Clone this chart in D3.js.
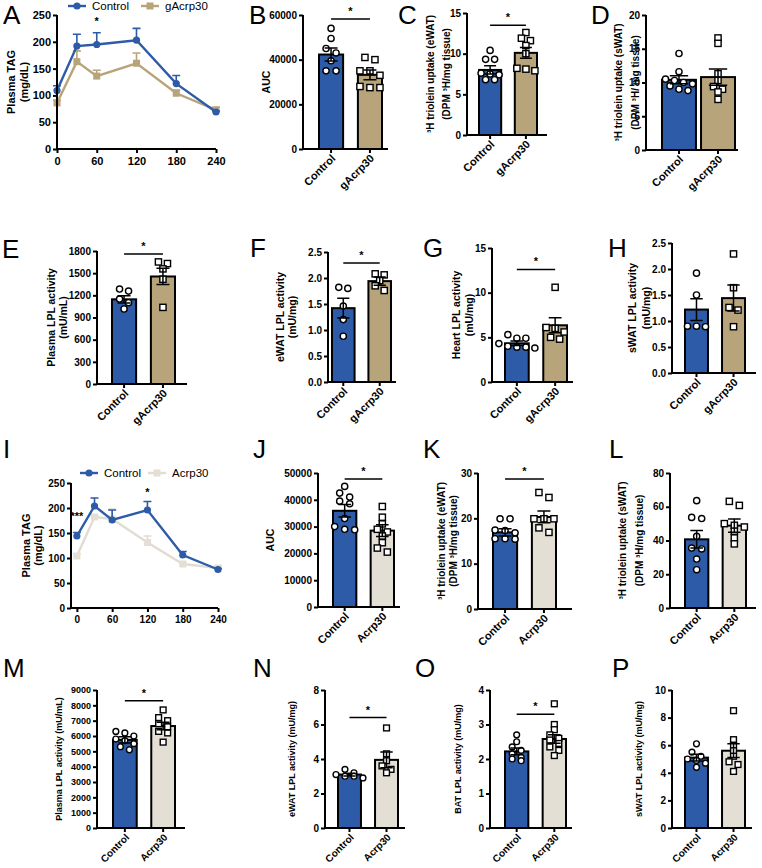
<!DOCTYPE html>
<html><head><meta charset="utf-8">
<script src="https://cdn.jsdelivr.net/npm/d3@7"></script>
<style>body{margin:0;background:#fff} svg{display:block}</style>
</head><body><svg id="c" width="762" height="868"></svg>
<script>
// ---------------- DATA ----------------
const groupsTop = ["Control", "gAcrp30"];
const groupsBot = ["Control", "Acrp30"];
const timePoints = [0, 30, 60, 120, 180, 240];
const timeTicks = [0, 60, 120, 180, 240];

// A: plasma TAG time course (gAcrp30)
const aCtrlMean = [109, 192, 195, 203, 122, 69];
const aCtrlSem  = [9, 22, 22, 22, 15, 2];
const aTrtMean  = [86, 163, 136, 160, 104, 73];
const aTrtSem   = [5, 20, 11, 19, 6, 5];
const aStars = [{t: 60, v: 232, s: "*"}];

// B: AUC
const bCtrl = [54000, 49500, 45000, 43000, 39500, 35000, 35000];
const bTrt  = [41000, 40000, 35000, 35000, 33000, 28000, 27500, 27500];
const bMean = [42300, 33200], bSem = [2900, 2200], bSig = 58200;
// C: eWAT uptake
const cCtrl = [10.4, 9.3, 9.3, 7.6, 7.4, 7.5, 6.8, 6.8];
const cTrt  = [12.6, 11.9, 11.6, 11.0, 10.0, 8.2, 8.1, 7.9];
const cMean = [8.0, 10.1], cSem = [0.5, 0.65], cSig = 13.5;
// D: sWAT uptake
const dCtrl = [14.3, 11.6, 10.5, 10.3, 10.0, 9.8, 9.5, 9.0, 8.8];
const dTrt  = [16.6, 15.8, 11.3, 10.3, 9.4, 9.0, 8.6, 7.5];
const dMean = [10.4, 10.8], dSem = [0.6, 1.2];
// E: plasma LPL
const eCtrl = [1285, 1257, 1150, 1100, 1015];
const eTrt  = [1652, 1630, 1558, 1418, 1037];
const eMean = [1146, 1455], eSem = [50, 110], eSig = 1760;
// F: eWAT LPL
const fCtrl = [1.82, 1.80, 1.46, 1.20, 0.88];
const fTrt  = [2.08, 2.06, 1.95, 1.85, 1.76];
const fMean = [1.42, 1.94], fSem = [0.19, 0.08], fSig = 2.29;
// G: heart LPL
const gCtrl = [5.3, 4.9, 4.9, 4.3, 4.0, 3.9, 3.9, 3.8];
const gTrt  = [10.6, 6.1, 6.0, 5.6, 5.0, 4.8];
const gMean = [4.33, 6.35], gSem = [0.25, 0.85], gSig = 12.6;
// H: sWAT LPL
const hCtrl = [1.92, 1.50, 0.90, 0.90, 0.89];
const hTrt  = [2.29, 1.64, 1.26, 1.21, 0.89];
const hMean = [1.22, 1.44], hSem = [0.21, 0.25];

// I: plasma TAG time course (Acrp30)
const iCtrlMean = [144, 204, 176, 196, 106, 77];
const iCtrlSem  = [7, 16, 20, 17, 7, 2];
const iTrtMean  = [104, 182, 178, 131, 88, 80];
const iTrtSem   = [4, 3, 20, 13, 4, 4];
const iStars = [{t: 0, v: 176, s: "***"}, {t: 120, v: 224, s: "*"}];

// J: AUC
const jCtrl = [45000, 42500, 41000, 39500, 38500, 33000, 30000, 29000, 28800];
const jTrt  = [37500, 33500, 31000, 29000, 28000, 26500, 24000, 22000, 20500];
const jMean = [35900, 28500], jSem = [2300, 2200], jSig = 47800;
// K: eWAT uptake
const kCtrl = [19.9, 19.9, 17.4, 17.3, 16.8, 15.5, 15.4, 15.5];
const kTrt  = [25.7, 24.6, 19.9, 19.9, 19.9, 17.9, 16.9];
const kMean = [16.9, 20.3], kSem = [0.8, 1.3], kSig = 28.7;
// L: sWAT uptake
const lCtrl = [63.6, 53.7, 53.0, 42.5, 35.5, 35.0, 29.0, 22.7];
const lTrt  = [63.2, 60.8, 50.0, 49.0, 48.0, 45.5, 41.5, 38.0];
const lMean = [40.7, 48.8], lSem = [5.2, 3.9];
// M: plasma LPL
const mCtrl = [6300, 6200, 6000, 5800, 5700, 5500, 5300, 5100];
const mTrt  = [7700, 7200, 7000, 6800, 6600, 6300, 6200, 5600];
const mMean = [5750, 6650], mSem = [200, 250], mSig = 8300;
// N: eWAT LPL
const nCtrl = [3.4, 3.2, 3.1, 3.0, 3.0, 2.9];
const nTrt  = [5.8, 4.3, 3.9, 3.6, 3.4, 3.2];
const nMean = [3.1, 3.95], nSem = [0.08, 0.45], nSig = 6.4;
// O: BAT LPL
const oCtrl = [2.7, 2.5, 2.35, 2.25, 2.15, 2.05, 2.0, 1.95];
const oTrt  = [3.6, 3.0, 2.85, 2.7, 2.6, 2.55, 2.45, 2.35, 2.25, 2.1];
const oMean = [2.22, 2.58], oSem = [0.1, 0.12], oSig = 3.3;
// P: sWAT LPL
const pCtrl = [6.1, 5.5, 5.2, 5.0, 4.9, 4.7, 4.4];
const pTrt  = [8.5, 6.4, 6.0, 5.6, 5.2, 4.8, 4.6, 4.1];
const pMean = [5.1, 5.6], pSem = [0.25, 0.5];

// ---------------- STYLE ----------------
const FONT = '"Liberation Sans", Arial, Helvetica, sans-serif';
const BLUE = "#2d5ba7", TAN = "#b8a47a", LIGHT = "#e4dfd4", LIGHTLINE = "#e2ddd2";
const svg = d3.select("#c");

function styleAxis(sel, fs) {
  sel.attr("font-family", FONT).attr("font-size", fs);
  sel.select(".domain").attr("stroke", "#000").attr("stroke-width", 2);
  sel.selectAll(".tick line").attr("stroke", "#000").attr("stroke-width", 2);
  sel.selectAll(".tick text").attr("fill", "#000").attr("font-weight", "bold");
}
function letter(L) {
  svg.append("text").attr("x", L.letter[0]).attr("y", L.letter[1])
    .attr("font-family", FONT).attr("font-size", 26).text(L.id);
}
function yTitle(L, lines, fs, cy) {
  lines.forEach((t, i) => {
    const x = L.tx[i];
    svg.append("text").attr("transform", `translate(${x},${cy}) rotate(-90)`)
      .attr("text-anchor", "middle").attr("font-family", FONT).attr("font-weight", "bold")
      .attr("font-size", fs).text(t);
  });
}
// arrange scatter points into rows, centered
function swarm(vals, y, cx, d) {
  const pts = vals.map(v => ({v, py: y(v)})).sort((a, b) => a.py - b.py);
  const out = []; let cl = [];
  const flush = () => { cl.forEach((p, k) => out.push({px: cx + (k - (cl.length - 1) / 2) * d, py: p.py})); cl = []; };
  pts.forEach(p => { if (cl.length && Math.abs(p.py - cl[0].py) > 5) flush(); cl.push(p); });
  flush();
  return out;
}

function barPanel(L, D) {
  letter(L);
  const y = d3.scaleLinear().domain([0, L.ymax]).range([L.yb, L.yt]);
  const x = d3.scaleBand().domain(D.groups).range(L.bx).paddingInner(L.pi);
  const g = svg.append("g");
  const colors = [BLUE, D.color];
  D.groups.forEach((grp, i) => {
    g.append("rect").attr("x", x(grp)).attr("y", y(D.mean[i]))
      .attr("width", x.bandwidth()).attr("height", y(0) - y(D.mean[i]))
      .attr("fill", colors[i]).attr("stroke", "#000").attr("stroke-width", 2);
  });
  const r = L.pr || 3.1;
  D.groups.forEach((grp, i) => {
    const cx = x(grp) + x.bandwidth() / 2;
    const pts = swarm(D.pts[i], y, cx, L.dd || 9);
    pts.forEach(p => {
      if (i === 0) g.append("circle").attr("cx", p.px).attr("cy", p.py).attr("r", r)
        .attr("fill", "#fff").attr("stroke", "#000").attr("stroke-width", 1.4);
      else g.append("rect").attr("x", p.px - r).attr("y", p.py - r).attr("width", 2 * r).attr("height", 2 * r)
        .attr("fill", "#fff").attr("stroke", "#000").attr("stroke-width", 1.4);
    });
  });
  D.groups.forEach((grp, i) => {
    const cx = x(grp) + x.bandwidth() / 2, w = x.bandwidth() * 0.27;
    const y1 = y(D.mean[i] + D.sem[i]), y0 = y(D.mean[i] - D.sem[i]);
    g.append("path").attr("d", `M${cx},${y0}V${y1}M${cx - w},${y1}H${cx + w}M${cx - w},${y0}H${cx + w}`)
      .attr("stroke", "#000").attr("stroke-width", 1.5).attr("fill", "none");
  });
  if (D.sig !== undefined) {
    const c0 = x(D.groups[0]) + x.bandwidth() / 2, c1 = x(D.groups[1]) + x.bandwidth() / 2;
    const sy = y(D.sig);
    g.append("path").attr("d", `M${c0},${sy}H${c1}`).attr("stroke", "#000").attr("stroke-width", 1.5);
    g.append("text").attr("x", (c0 + c1) / 2).attr("y", sy - 4).attr("text-anchor", "middle")
      .attr("font-family", FONT).attr("font-size", 11).attr("font-weight", "bold").text("*");
  }
  const ya = svg.append("g").attr("transform", `translate(${L.x0},0)`)
    .call(d3.axisLeft(y).tickValues(L.ticks).tickSize(4).tickSizeOuter(0).tickPadding(2).tickFormat(L.fmt || d3.format("d")));
  styleAxis(ya, L.fs || 10);
  ya.select(".domain").attr("d", `M0,${L.yb + 1}V${L.yt}`);
  const xa = svg.append("g").attr("transform", `translate(0,${L.yb})`)
    .call(d3.axisBottom(x).tickSize(4).tickSizeOuter(0));
  styleAxis(xa, L.xfs || 11);
  xa.select(".domain").attr("d", `M${L.x0 - 1},0H${L.x1}`);
  xa.selectAll(".tick text").attr("x", 0).attr("y", 0).attr("dy", null)
    .attr("text-anchor", "end").attr("transform", "translate(5,10) rotate(-45)");
  yTitle(L, D.title, L.tfs || 10.5, (L.yt + L.yb) / 2);
}

function linePanel(L, D) {
  letter(L);
  const x = d3.scaleLinear().domain(L.xd).range([L.x0, L.x1]);
  const y = d3.scaleLinear().domain([0, 250]).range([L.yb, L.yt]);
  const g = svg.append("g");
  D.series.forEach(s => {
    const line = d3.line().x((d, i) => x(timePoints[i])).y(d => y(d));
    g.append("path").attr("d", line(s.mean)).attr("fill", "none").attr("stroke", s.lineColor).attr("stroke-width", 2.4);
    s.mean.forEach((m, i) => {
      const cx = x(timePoints[i]), yt = y(m + s.sem[i]);
      g.append("path").attr("d", `M${cx},${y(m)}V${yt}M${cx - 4},${yt}H${cx + 4}`)
        .attr("stroke", s.lineColor).attr("stroke-width", 1.6);
    });
    s.mean.forEach((m, i) => {
      const cx = x(timePoints[i]), cy = y(m);
      if (s.shape === "circle") g.append("circle").attr("cx", cx).attr("cy", cy).attr("r", 3.6).attr("fill", s.color);
      else g.append("rect").attr("x", cx - 3.5).attr("y", cy - 3.5).attr("width", 7).attr("height", 7).attr("fill", s.color);
    });
  });
  D.stars.forEach(st => {
    g.append("text").attr("x", x(st.t)).attr("y", y(st.v)).attr("text-anchor", "middle")
      .attr("font-family", FONT).attr("font-size", 11).attr("font-weight", "bold").text(st.s);
  });
  const ya = svg.append("g").attr("transform", `translate(${L.x0},0)`)
    .call(d3.axisLeft(y).tickValues([0, 50, 100, 150, 200, 250]).tickSize(4).tickSizeOuter(0).tickPadding(2));
  styleAxis(ya, L.fs);
  ya.select(".domain").attr("d", `M0,${L.yb + 1}V${L.yt}`);
  const xa = svg.append("g").attr("transform", `translate(0,${L.yb})`)
    .call(d3.axisBottom(x).tickValues(timeTicks).tickSize(4).tickSizeOuter(0).tickPadding(4));
  styleAxis(xa, L.fs);
  xa.select(".domain").attr("d", `M${L.x0 - 1},0H${L.x1}`);
  yTitle(L, D.title, 11, (L.yt + L.yb) / 2);
  D.series.slice().reverse().forEach((s, k) => {
    const lx = L.leg[k];
    g.append("path").attr("d", `M${lx - 9},${L.legY}H${lx + 9}`).attr("stroke", s.lineColor).attr("stroke-width", 2.4);
    if (s.shape === "circle") g.append("circle").attr("cx", lx).attr("cy", L.legY).attr("r", 3.6).attr("fill", s.color);
    else g.append("rect").attr("x", lx - 3.5).attr("y", L.legY - 3.5).attr("width", 7).attr("height", 7).attr("fill", s.color);
    g.append("text").attr("x", lx + 15).attr("y", L.legY + 4).attr("font-family", FONT).attr("font-size", 11.5).text(s.name);
  });
}

// ---------------- LAYOUT ----------------
const uptakeTitle = (depot, sep) => [`\u00B3H triolein uptake (${depot})`, `(DPM \u00B3H/${sep}mg tissue)`];

linePanel({id: "A", letter: [3, 24], x0: 57, x1: 216, xd: [0, 240], yb: 149, yt: 15, fs: 11, tx: [15, 28], leg: [77, 150], legY: 6},
  {title: ["Plasma TAG", "(mg/dL)"], stars: aStars, series: [
    {name: groupsTop[1], mean: aTrtMean, sem: aTrtSem, color: TAN, lineColor: TAN, shape: "square"},
    {name: groupsTop[0], mean: aCtrlMean, sem: aCtrlSem, color: BLUE, lineColor: BLUE, shape: "circle"}]});

barPanel({id: "B", letter: [249, 24], x0: 303, x1: 388, bx: [319, 382], pi: 0.38, yb: 149, yt: 15, ymax: 60000, ticks: [0, 20000, 40000, 60000], tx: [270], dd: 10},
  {groups: groupsTop, color: TAN, pts: [bCtrl, bTrt], mean: bMean, sem: bSem, sig: bSig, title: ["AUC"]});
barPanel({id: "C", letter: [398, 24], x0: 467, x1: 547, bx: [479, 537], pi: 0.38, yb: 135, yt: 13, ymax: 15, ticks: [0, 5, 10, 15], tx: [434, 450], tfs: 10, dd: 9},
  {groups: groupsTop, color: TAN, pts: [cCtrl, cTrt], mean: cMean, sem: cSem, sig: cSig, title: uptakeTitle("eWAT", "")});
barPanel({id: "D", letter: [591, 24], x0: 646, x1: 738, bx: [662, 735], pi: 0.13, yb: 150, yt: 15, ymax: 20, ticks: [0, 5, 10, 15, 20], tx: [622, 639], tfs: 10, dd: 9},
  {groups: groupsTop, color: TAN, pts: [dCtrl, dTrt], mean: dMean, sem: dSem, title: uptakeTitle("sWAT", " ")});

barPanel({id: "E", letter: [2, 258], x0: 97, x1: 187, bx: [112, 175], pi: 0.38, yb: 384, yt: 251, ymax: 1800, ticks: [0, 300, 600, 900, 1200, 1500, 1800], tx: [55, 67]},
  {groups: groupsTop, color: TAN, pts: [eCtrl, eTrt], mean: eMean, sem: eSem, sig: eSig, title: ["Plasma LPL activity", "(mU/mL)"]});
barPanel({id: "F", letter: [250, 257], x0: 328, x1: 396, bx: [332, 391], pi: 0.38, yb: 382, yt: 252, ymax: 2.5, ticks: [0, 0.5, 1, 1.5, 2, 2.5], fmt: d3.format(".1f"), tx: [284, 296]},
  {groups: groupsTop, color: TAN, pts: [fCtrl, fTrt], mean: fMean, sem: fSem, sig: fSig, title: ["eWAT LPL activity", "(mU/mg)"]});
barPanel({id: "G", letter: [423, 257], x0: 492, x1: 573, bx: [505, 567], pi: 0.38, yb: 382, yt: 248, ymax: 15, ticks: [0, 5, 10, 15], tx: [460, 473]},
  {groups: groupsTop, color: TAN, pts: [gCtrl, gTrt], mean: gMean, sem: gSem, sig: gSig, title: ["Heart LPL activity", "(mU/mg)"]});
barPanel({id: "H", letter: [608, 257], x0: 672, x1: 756, bx: [685, 745], pi: 0.38, yb: 373, yt: 243, ymax: 2.5, ticks: [0, 0.5, 1, 1.5, 2, 2.5], fmt: d3.format(".1f"), tx: [636, 650]},
  {groups: groupsTop, color: TAN, pts: [hCtrl, hTrt], mean: hMean, sem: hSem, title: ["sWAT LPL activity", "(mU/mg)"]});

linePanel({id: "I", letter: [3, 458], x0: 71, x1: 218, xd: [-10, 240], yb: 608, yt: 483, fs: 10, tx: [30, 42], leg: [89, 157], legY: 473},
  {title: ["Plasma TAG", "(mg/dL)"], stars: iStars, series: [
    {name: groupsBot[1], mean: iTrtMean, sem: iTrtSem, color: LIGHT, lineColor: LIGHTLINE, shape: "square"},
    {name: groupsBot[0], mean: iCtrlMean, sem: iCtrlSem, color: BLUE, lineColor: BLUE, shape: "circle"}]});

barPanel({id: "J", letter: [253, 458], x0: 318, x1: 400, bx: [333, 394], pi: 0.38, yb: 607, yt: 473, ymax: 50000, ticks: [0, 10000, 20000, 30000, 40000, 50000], tx: [274], dd: 10},
  {groups: groupsBot, color: LIGHT, pts: [jCtrl, jTrt], mean: jMean, sem: jSem, sig: jSig, title: ["AUC"]});
barPanel({id: "K", letter: [423, 458], x0: 478, x1: 572, bx: [493, 556], pi: 0.38, yb: 609, yt: 473, ymax: 30, ticks: [0, 10, 20, 30], tx: [445, 457], tfs: 10, dd: 10},
  {groups: groupsBot, color: LIGHT, pts: [kCtrl, kTrt], mean: kMean, sem: kSem, sig: kSig, title: uptakeTitle("eWAT", "")});
barPanel({id: "L", letter: [609, 458], x0: 670, x1: 756, bx: [685, 746], pi: 0.38, yb: 608, yt: 473, ymax: 80, ticks: [0, 20, 40, 60, 80], tx: [626, 643], tfs: 10, dd: 10},
  {groups: groupsBot, color: LIGHT, pts: [lCtrl, lTrt], mean: lMean, sem: lSem, title: uptakeTitle("sWAT", "")});

barPanel({id: "M", letter: [3, 677], x0: 97, x1: 185, bx: [113, 175], pi: 0.38, yb: 828, yt: 690, ymax: 9000, ticks: d3.range(0, 9001, 1000), tx: [62], tfs: 9, fs: 9, xfs: 10, pr: 2.9},
  {groups: groupsBot, color: LIGHT, pts: [mCtrl, mTrt], mean: mMean, sem: mSem, sig: mSig, title: ["Plasma LPL activity (mU/mL)"]});
barPanel({id: "N", letter: [253, 677], x0: 325, x1: 405, bx: [338, 398], pi: 0.38, yb: 828, yt: 690, ymax: 8, ticks: [0, 2, 4, 6, 8], tx: [295], tfs: 9, xfs: 10, pr: 2.9},
  {groups: groupsBot, color: LIGHT, pts: [nCtrl, nTrt], mean: nMean, sem: nSem, sig: nSig, title: ["eWAT LPL activity (mU/mg)"]});
barPanel({id: "O", letter: [415, 677], x0: 490, x1: 572, bx: [505, 566], pi: 0.38, yb: 828, yt: 690, ymax: 4, ticks: [0, 1, 2, 3, 4], tx: [461], tfs: 9, xfs: 10, pr: 2.9},
  {groups: groupsBot, color: LIGHT, pts: [oCtrl, oTrt], mean: oMean, sem: oSem, sig: oSig, title: ["BAT LPL activity (mU/mg)"]});
barPanel({id: "P", letter: [612, 677], x0: 672, x1: 752, bx: [685, 745], pi: 0.38, yb: 828, yt: 690, ymax: 10, ticks: [0, 2, 4, 6, 8, 10], tx: [642], tfs: 9, xfs: 10, pr: 2.9},
  {groups: groupsBot, color: LIGHT, pts: [pCtrl, pTrt], mean: pMean, sem: pSem, title: ["sWAT LPL activity (mU/mg)"]});
</script></body></html>
